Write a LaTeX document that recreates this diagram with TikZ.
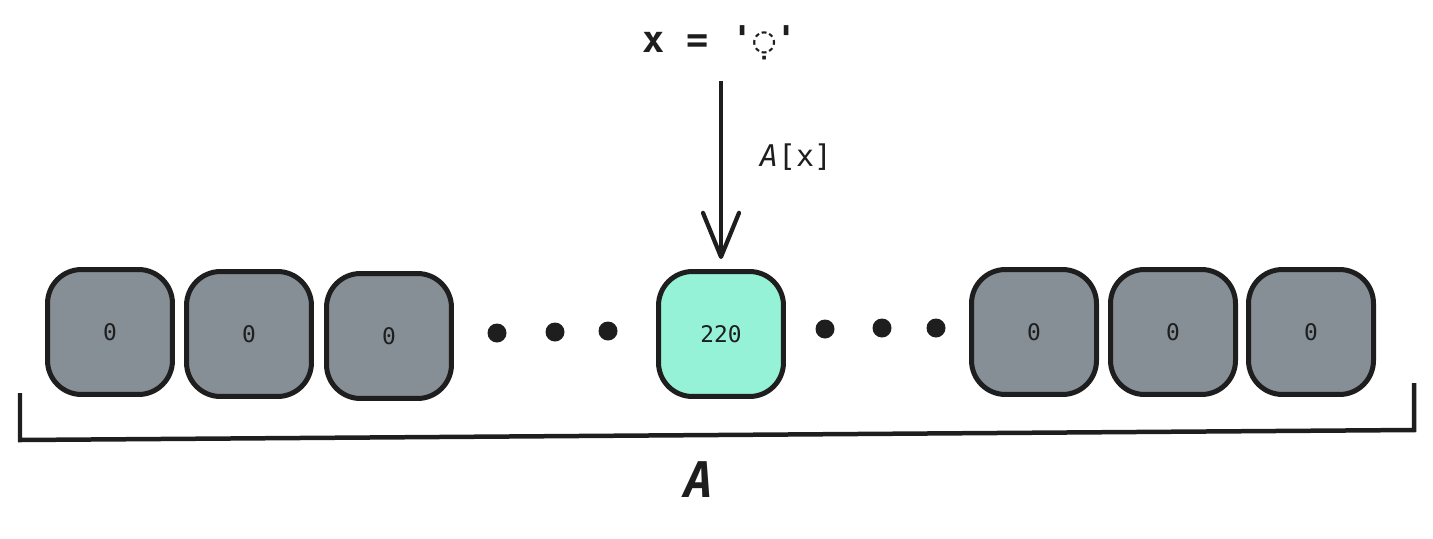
\documentclass[tikz,border=0pt]{standalone}
\usepackage{fontspec}
\setmonofont{DejaVu Sans Mono}
\usetikzlibrary{arrows.meta}

\definecolor{inkdark}{HTML}{1E1E1E}
\definecolor{cellgray}{HTML}{868E96}
\definecolor{cellmint}{HTML}{96F2D7}

\tikzset{
	cell/.style={draw=inkdark, line width=0.1cm, rounded corners=0.68cm, minimum size=2.5cm, inner sep=0, text=inkdark, font=\ttfamily\fontsize{13}{15}\selectfont},
	zerocell/.style={cell, fill=cellgray},
	hitcell/.style={cell, fill=cellmint},
	gapdot/.style={circle, fill=inkdark, minimum size=0.38cm, inner sep=0},
	pointer/.style={draw=inkdark, line width=0.085cm, -{Straight Barb[round, length=0.88cm, width=0.72cm]}, shorten >=0.2cm},
	brace/.style={draw=inkdark, line width=0.09cm, line join=miter}
}

\begin{document}
\begin{tikzpicture}[x=0.02cm, y=-0.02cm]
\useasboundingbox (0,0) rectangle (1433,538);

%% Zellen links
\node[zerocell] (left1) at (110,332) {0};
\node[zerocell] (left2) at (249,334) {0};
\node[zerocell] (left3) at (389,336) {0};

%% Treffer
\node[hitcell] (hit) at (721,334) {220};

%% Zellen rechts
\node[zerocell] (right1) at (1034,332) {0};
\node[zerocell] (right2) at (1173,332) {0};
\node[zerocell] (right3) at (1311,332) {0};

%% Punkte
\node[gapdot] (dota) at (497,333) {};
\node[gapdot] (dotb) at (555,332) {};
\node[gapdot] (dotc) at (608,331) {};
\node[gapdot] (dotd) at (825,329) {};
\node[gapdot] (dote) at (882,328) {};
\node[gapdot] (dotf) at (936,328) {};

%% Schluessel und Pfeil
\node[text=inkdark, font=\ttfamily\fontsize{21}{25}\selectfont] (query) at (720,43) {\textbf{x = '}◌\kern-0.602em ̣\kern0.602em\textbf{'}};
\coordinate (arrowstart) at (721,81);
\draw[pointer] (arrowstart) -- (hit.north);
\node[text=inkdark, font=\ttfamily\fontsize{17}{20}\selectfont] (access) at (796,157) {\textit{A}[x]};

%% Klammer
\coordinate (bracea) at (20,393);
\coordinate (braceb) at (20,440);
\coordinate (bracec) at (1414,430);
\coordinate (braced) at (1414,383);
\draw[brace] (bracea) -- (braceb) -- (bracec) -- (braced);
\node[text=inkdark, font=\ttfamily\bfseries\itshape\fontsize{28}{32}\selectfont] (name) at (699,480) {A};

\end{tikzpicture}
\end{document}
